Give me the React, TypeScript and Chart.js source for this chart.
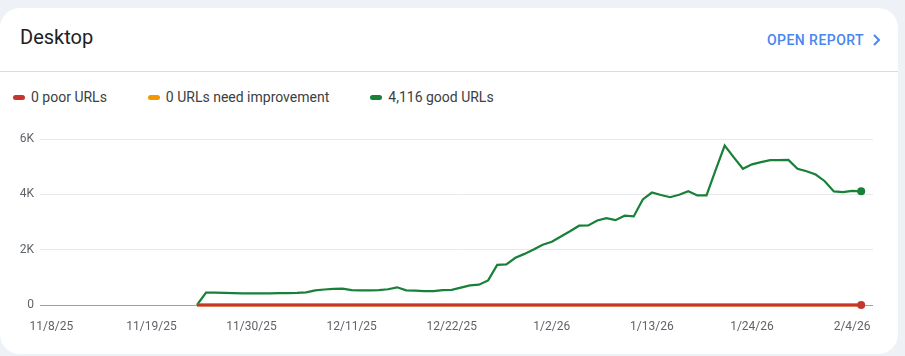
import React, { useEffect, useRef } from "react";
import { Chart, registerables } from "chart.js";

Chart.register(...registerables);

// Dates from 11/7/25 to 2/5/26 (91 days)
const startDate = new Date(2025, 10, 7);
const dayCount = 91;
const dates: string[] = Array.from({ length: dayCount }, (_, i) => {
  const d = new Date(startDate.getFullYear(), startDate.getMonth(), startDate.getDate() + i);
  return `${d.getMonth() + 1}/${d.getDate()}/${String(d.getFullYear()).slice(2)}`;
});

const xTickLabels = ["11/8/25", "11/19/25", "11/30/25", "12/11/25", "12/22/25", "1/2/26", "1/13/26", "1/24/26", "2/4/26"];
const yTickValues = [0, 2000, 4000, 6000];

const N = null;
const goodUrls: (number | null)[] = [
  N, N, N, N, N, N, N, N, N, N, N, N, N, N, N, N, N,
  0, 450, 450, 440, 430, 420, 420, 420, 420, 430, 430, 440, 460, 530, 560, 580, 590,
  540, 530, 530, 540, 570, 640, 530, 520, 500, 500, 540, 550, 630, 710, 735, 890,
  1450, 1470, 1710, 1850, 2010, 2180, 2290, 2480, 2670, 2870, 2880, 3060, 3145, 3070, 3230, 3205,
  3820, 4070, 3980, 3900, 3990, 4120, 3965, 3965, 4880, 5770, 5340, 4930, 5090, 5170, 5240, 5240,
  5250, 4930, 4840, 4720, 4480, 4110, 4085, 4130, 4116,
];
const poorUrls: (number | null)[] = [
  N, N, N, N, N, N, N, N, N, N, N, N, N, N, N, N, N,
  0, 0, 0, 0, 0, 0, 0, 0, 0, 0, 0, 0, 0, 0, 0, 0, 0,
  0, 0, 0, 0, 0, 0, 0, 0, 0, 0, 0, 0, 0, 0, 0, 0,
  0, 0, 0, 0, 0, 0, 0, 0, 0, 0, 0, 0, 0, 0, 0, 0,
  0, 0, 0, 0, 0, 0, 0, 0, 0, 0, 0, 0, 0, 0, 0, 0,
  0, 0, 0, 0, 0, 0, 0, 0, 0,
];
const needsImprovementUrls: (number | null)[] = poorUrls.slice();

const legendItems = [
  { label: "0 poor URLs", color: "#c5372c" },
  { label: "0 URLs need improvement", color: "#f29900" },
  { label: "4,116 good URLs", color: "#188038" },
];

const FONT = "Roboto, 'Noto Sans', Arial, sans-serif";

export default function App() {
  const canvasRef = useRef<HTMLCanvasElement | null>(null);

  useEffect(() => {
    if (!canvasRef.current) return;
    const toXY = (arr: (number | null)[]) => arr.map((v, i) => ({ x: i, y: v }));
    const last = dayCount - 1;
    const endPoint = (ctx: any) => (ctx.dataIndex === last ? 4 : 0);
    const chart = new Chart(canvasRef.current, {
      type: "line",
      data: {
        datasets: [
          {
            label: "good",
            data: toXY(goodUrls) as any,
            borderColor: "#188038",
            backgroundColor: "#188038",
            borderWidth: 2.2,
            pointRadius: endPoint,
            pointHoverRadius: endPoint,
            pointBorderWidth: 0,
            tension: 0,
            spanGaps: false,
            clip: 6,
            order: 3,
          },
          {
            label: "needs improvement",
            data: toXY(needsImprovementUrls) as any,
            borderColor: "#f29900",
            backgroundColor: "#f29900",
            borderWidth: 3,
            pointRadius: 0,
            tension: 0,
            clip: 6,
            order: 2,
          },
          {
            label: "poor",
            data: toXY(poorUrls) as any,
            borderColor: "#c5372c",
            backgroundColor: "#c5372c",
            borderWidth: 3,
            pointRadius: endPoint,
            pointHoverRadius: endPoint,
            pointBorderWidth: 0,
            tension: 0,
            clip: 6,
            order: 1,
          },
        ],
      },
      options: {
        animation: false,
        responsive: false,
        maintainAspectRatio: false,
        layout: { padding: { top: 13, right: 32, left: 0, bottom: 0 } },
        plugins: {
          legend: { display: false },
          tooltip: { enabled: false },
        },
        scales: {
          x: {
            type: "linear",
            min: -0.25,
            max: 91.3,
            grid: { display: false, drawTicks: false },
            border: { display: false },
            afterBuildTicks: (scale: any) => {
              scale.ticks = xTickLabels.map((l) => ({ value: dates.indexOf(l) }));
            },
            afterFit: (scale: any) => {
              scale.height = 36;
            },
            ticks: {
              autoSkip: false,
              maxRotation: 0,
              padding: 15,
              color: "#5f6368",
              font: { family: FONT, size: 12 },
              callback: (v: any) => dates[v as number] ?? "",
            },
          },
          y: {
            min: 0,
            max: 6000,
            afterBuildTicks: (scale: any) => {
              scale.ticks = yTickValues.map((v) => ({ value: v }));
            },
            afterFit: (scale: any) => {
              scale.width = 40;
            },
            grid: {
              drawTicks: false,
              color: (ctx: any) => (ctx.tick && ctx.tick.value === 0 ? "#9aa0a6" : "#e8e8e8"),
              lineWidth: 1,
            },
            border: { display: false },
            ticks: {
              padding: 6,
              color: "#5f6368",
              font: { family: FONT, size: 12 },
              callback: (v: any) => (v === 0 ? "0" : `${(v as number) / 1000}K`),
            },
          },
        },
      },
    });
    return () => chart.destroy();
  }, []);

  return (
    <div
      style={{
        position: "absolute",
        left: 0,
        top: 0,
        width: 905,
        height: 356,
        background: "#eef1f6",
        overflow: "hidden",
        fontFamily: FONT,
      }}
    >
      <div
        style={{
          position: "absolute",
          left: 0,
          top: 8,
          width: 898,
          height: 346,
          background: "#ffffff",
          borderRadius: 20,
        }}
      >
        <div
          style={{
            position: "absolute",
            left: 20,
            top: 15,
            fontSize: 20,
            color: "#202124",
            lineHeight: "28px",
          }}
        >
          Desktop
        </div>
        <div
          style={{
            position: "absolute",
            right: 14,
            top: 22,
            fontSize: 14,
            fontWeight: 500,
            letterSpacing: 0.45,
            color: "#4a86f0",
            lineHeight: "20px",
            display: "flex",
            alignItems: "center",
          }}
        >
          <span>OPEN REPORT</span>
          <svg width="16" height="16" viewBox="0 0 16 16" style={{ marginLeft: 4 }}>
            <path d="M6 3 L11 8 L6 13" fill="none" stroke="#4a86f0" strokeWidth="2" />
          </svg>
        </div>
        <div
          style={{
            position: "absolute",
            left: 0,
            right: 0,
            top: 63,
            height: 1,
            background: "#dadce0",
          }}
        />
        <div
          style={{
            position: "absolute",
            left: 13,
            top: 79,
            display: "flex",
            alignItems: "center",
            fontSize: 14,
            color: "#3c4043",
            lineHeight: "20px",
          }}
        >
          {legendItems.map((it, i) => (
            <div key={i} style={{ display: "flex", alignItems: "center", marginRight: 41 }}>
              <span
                style={{
                  display: "inline-block",
                  width: 12,
                  height: 5,
                  borderRadius: 3,
                  background: it.color,
                  marginRight: 6,
                }}
              />
              <span>{it.label}</span>
            </div>
          ))}
        </div>
      </div>
      <canvas
        ref={canvasRef}
        width={905}
        height={215}
        style={{ position: "absolute", left: 0, top: 126, width: 905, height: 215 }}
      />
    </div>
  );
}
